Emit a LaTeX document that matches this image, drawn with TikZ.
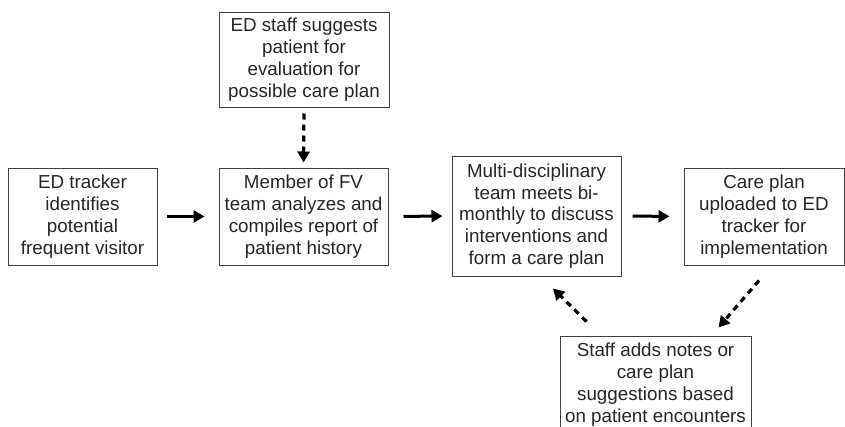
\documentclass[tikz,border=0pt]{standalone}
\usepackage{fontspec}
\setmainfont{Liberation Sans}
\usetikzlibrary{arrows.meta,calc}
\begin{document}
\begin{tikzpicture}[x=1pt,y=-1pt,
  box/.style={draw=black!75,line width=1pt,inner sep=0pt,align=center,
    font=\fontsize{18.8}{21.8}\selectfont,text=black!85},
  flow/.style={line width=3pt,-{Triangle[length=11pt,width=12pt]}},
  dflow/.style={line width=3.2pt,dash pattern=on 6pt off 5pt,-{Triangle[length=11pt,width=12pt]}}]
\useasboundingbox (0,0) rectangle (845,426);
\node[box,minimum width=149pt,minimum height=97pt] (b1) at (82.5,216.5)
  {ED tracker\\identifies\\potential\\frequent visitor};
\node[box,minimum width=169pt,minimum height=97pt] (b2) at (303.5,216.5)
  {Member of FV\\team analyzes and\\compiles report of\\patient history};
\node[box,minimum width=170pt,minimum height=95pt] (top) at (304,59.5)
  {ED staff suggests\\patient for\\evaluation for\\possible care plan};
\node[box,minimum width=169pt,minimum height=120pt] (b3) at (536.5,216)
  {Multi-disciplinary\\team meets bi-\\monthly to discuss\\interventions and\\form a care plan};
\node[box,minimum width=160pt,minimum height=97pt] (b4) at (764,216.5)
  {Care plan\\uploaded to ED\\tracker for\\implementation};
\node[box,minimum width=191pt,minimum height=97pt] (b5) at (655.5,384.5)
  {Staff adds notes or\\care plan\\suggestions based\\on patient encounters};
\draw[flow,shorten <=9pt,shorten >=14pt] (b1.east) -- (b2.west);
\draw[flow,shorten <=15pt,shorten >=9pt] (b2.east) -- (b3.west);
\draw[flow,shorten <=11pt,shorten >=14pt] (b3.east) -- (b4.west);
\draw[dflow,shorten <=6pt,shorten >=5pt] (top.south) -- (b2.north);
\draw[dflow] ($(b5.north west)+(27,-14)$) -- ($(b3.south)+(16.5,12)$);
\draw[dflow] ($(b4.south)+(-5,15)$) -- ($(b5.north east)+(-33,-8)$);
\end{tikzpicture}
\end{document}
